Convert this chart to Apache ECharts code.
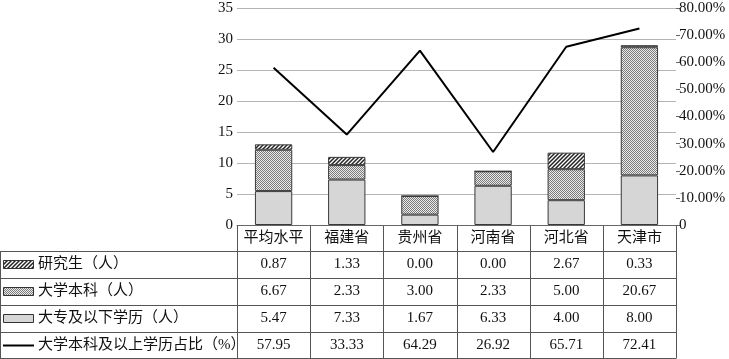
<!DOCTYPE html>
<html><head><meta charset="utf-8">
<script src="https://cdn.jsdelivr.net/npm/echarts@6/dist/echarts.min.js"></script>
<style>html,body{margin:0;padding:0;background:#fff}#c{width:729px;height:359px}</style>
</head><body><div id="c"></div>
<script>
const categories = ['平均水平','福建省','贵州省','河南省','河北省','天津市'];
const graduate = [0.87, 1.33, 0.00, 0.00, 2.67, 0.33];
const bachelor = [6.67, 2.33, 3.00, 2.33, 5.00, 20.67];
const college = [5.47, 7.33, 1.67, 6.33, 4.00, 8.00];
const ratio = [57.95, 33.33, 64.29, 26.92, 65.71, 72.41];
const seriesNames = ['研究生（人）','大学本科（人）','大专及以下学历（人）','大学本科及以上学历占比（%）'];
const leftTicks = [0, 35, 5];
const rightTicks = [0, 80, 10];

(function(){
const FONT = '"Liberation Serif","Noto Sans CJK SC",serif';
const FS = 15;

function hatchPattern(){
  const c = document.createElement('canvas'); c.width = 4; c.height = 4;
  const g = c.getContext('2d');
  g.fillStyle = '#fff'; g.fillRect(0,0,4,4);
  g.strokeStyle = '#222'; g.lineWidth = 1.5;
  g.beginPath(); g.moveTo(0,4); g.lineTo(4,0); g.moveTo(-1,1); g.lineTo(1,-1); g.moveTo(3,5); g.lineTo(5,3); g.stroke();
  return c;
}
function checkerPattern(){
  const c = document.createElement('canvas'); c.width = 2; c.height = 2;
  const g = c.getContext('2d');
  g.fillStyle = '#ececec'; g.fillRect(0,0,2,2);
  g.fillStyle = '#7a7a7a'; g.fillRect(0,0,1,1); g.fillRect(1,1,1,1);
  return c;
}
const hatch = {image: hatchPattern(), repeat: 'repeat'};
const checker = {image: checkerPattern(), repeat: 'repeat'};
const solid = '#d6d6d6';
const fills = [hatch, checker, solid];

const chart = echarts.init(document.getElementById('c'), null, {renderer: 'canvas'});
const gridL = 237, gridR = 53, gridT = 8, gridB = 134;
const barStyle = {borderColor: '#3a3a3a', borderWidth: 1};
chart.setOption({
  animation: false,
  textStyle: {fontFamily: FONT},
  grid: {left: gridL, right: gridR, top: gridT, bottom: gridB, containLabel: false},
  xAxis: {
    type: 'category', data: categories,
    axisLine: {show: true, lineStyle: {color: '#666', width: 1}},
    axisTick: {show: false},
    axisLabel: {fontFamily: FONT, fontSize: FS, color: '#111', margin: 6, interval: 0, hideOverlap: false}
  },
  yAxis: [{
    type: 'value', min: leftTicks[0], max: leftTicks[1], interval: leftTicks[2],
    axisLine: {show: false}, axisTick: {show: false},
    axisLabel: {fontFamily: FONT, fontSize: FS, color: '#111', margin: 4},
    splitLine: {lineStyle: {color: '#b5b5b5', width: 1}}
  }, {
    type: 'value', min: rightTicks[0], max: rightTicks[1], interval: rightTicks[2],
    position: 'right',
    axisLine: {show: false},
    axisTick: {show: true, length: 4, lineStyle: {color: '#666'}},
    axisLabel: {fontFamily: FONT, fontSize: FS, color: '#111', margin: 3,
      formatter: v => v === 0 ? '0' : v.toFixed(2) + '%'},
    splitLine: {show: false}
  }],
  series: [
    {name: seriesNames[2], type: 'bar', stack: 's', data: college, barWidth: '51%', itemStyle: Object.assign({color: solid}, barStyle)},
    {name: seriesNames[1], type: 'bar', stack: 's', data: bachelor, itemStyle: Object.assign({color: checker}, barStyle)},
    {name: seriesNames[0], type: 'bar', stack: 's', data: graduate, itemStyle: Object.assign({color: hatch}, barStyle)},
    {name: seriesNames[3], type: 'line', yAxisIndex: 1, data: ratio, showSymbol: false, symbol: 'none',
      lineStyle: {color: '#000', width: 2}}
  ]
});

const x0 = chart.convertToPixel({xAxisIndex: 0}, 0);
const x1 = chart.convertToPixel({xAxisIndex: 0}, 1);
const colW = x1 - x0;
const tLeft = x0 - colW / 2;
const tRight = tLeft + colW * categories.length;
const tTop = chart.convertToPixel({yAxisIndex: 0}, 0);
const rowBounds = [tTop, 251, 278, 305, 332, 358];
const lineColor = '#555';
const elems = [];
function hline(y, xa, xb){ elems.push({type:'line', shape:{x1:xa, y1:y, x2:xb, y2:y}, style:{stroke:lineColor, lineWidth:1}, silent:true}); }
function vline(x, ya, yb){ elems.push({type:'line', shape:{x1:x, y1:ya, x2:x, y2:yb}, style:{stroke:lineColor, lineWidth:1}, silent:true}); }
for (let i = 1; i < rowBounds.length; i++) hline(Math.round(rowBounds[i]) + 0.5, 0, tRight);
for (let j = 0; j <= categories.length; j++) vline(Math.round(tLeft + colW * j) + 0.5, tTop, rowBounds[rowBounds.length - 1] + 0.5);
vline(0.5, rowBounds[1], rowBounds[rowBounds.length - 1] + 0.5);

const rows = [graduate, bachelor, college, ratio];
rows.forEach((arr, r) => {
  const yc = (rowBounds[r + 1] + rowBounds[r + 2]) / 2;
  if (r < 3) {
    elems.push({type:'rect', shape:{x:3.5, y:Math.round(yc) - 4.5, width:30, height:8},
      style:{fill: fills[r], stroke:'#333', lineWidth:1}, silent:true});
  } else {
    elems.push({type:'line', shape:{x1:3, y1:Math.round(yc)+0.5, x2:34, y2:Math.round(yc)+0.5}, style:{stroke:'#000', lineWidth:2}, silent:true});
  }
  elems.push({type:'text', x:38, y:yc, style:{text: seriesNames[r], font: FS + 'px ' + FONT, fill:'#111', verticalAlign:'middle', textAlign:'left'}, silent:true});
  arr.forEach((v, c) => {
    elems.push({type:'text', x: tLeft + colW * (c + 0.5), y: yc,
      style:{text: v.toFixed(2), font: FS + 'px ' + FONT, fill:'#111', verticalAlign:'middle', textAlign:'center'}, silent:true});
  });
});
chart.setOption({graphic: {elements: elems}});
})();
</script>
</body></html>
